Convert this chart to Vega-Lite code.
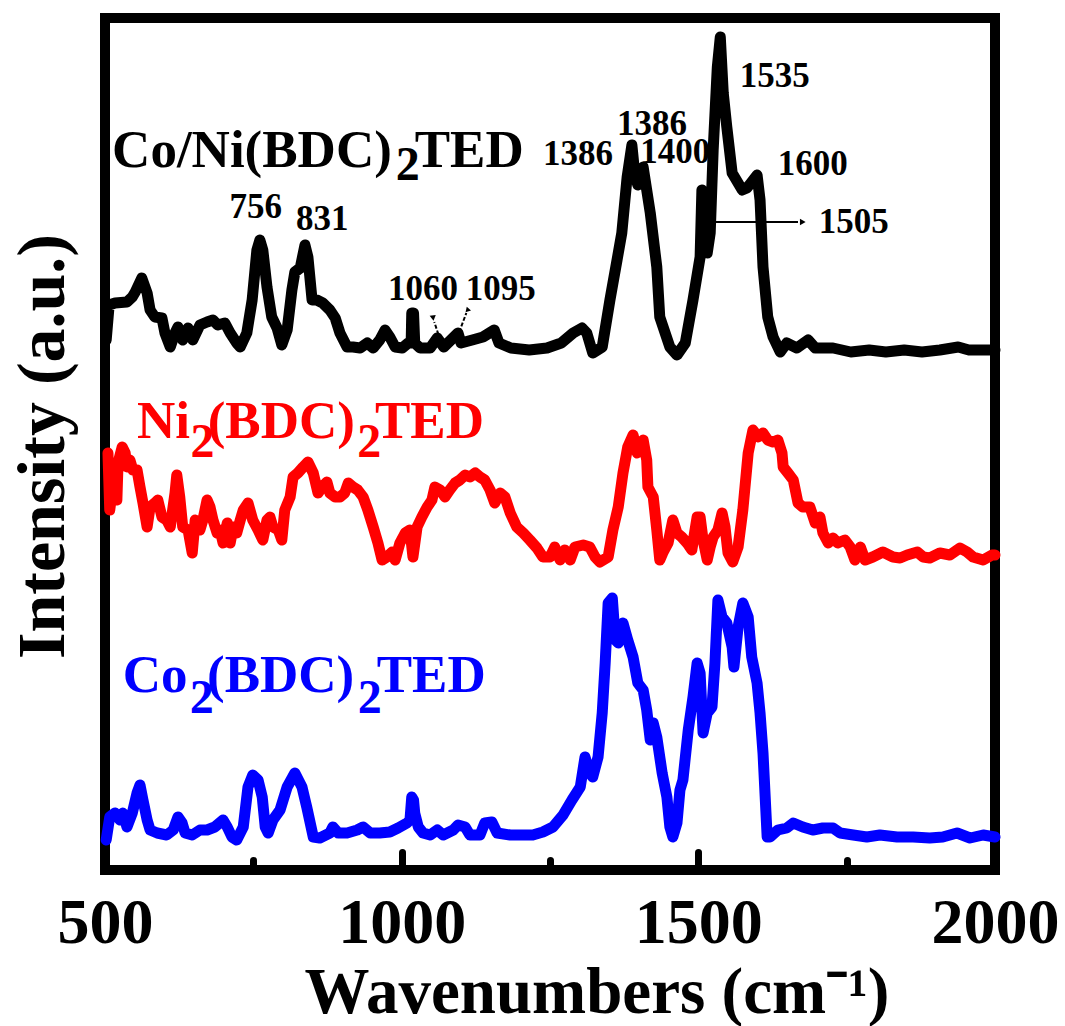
{
  "$schema": "https://vega.github.io/schema/vega-lite/v6.json",
  "width": 890,
  "height": 852,
  "autosize": {"type": "none"},
  "padding": {"left": 105, "top": 18, "right": 70, "bottom": 156},
  "background": "white",
  "config": {
    "view": {"stroke": "black", "strokeWidth": 10},
    "font": "Liberation Serif",
    "axis": {"grid": false}
  },
  "datasets": {
    "spectra": [
      {"s":"CoNi","w":502,"I":530},{"s":"CoNi","w":507,"I":565},{"s":"CoNi","w":517,"I":567},{"s":"CoNi","w":537,"I":568},{"s":"CoNi","w":546,"I":573},{"s":"CoNi","w":551,"I":578},{"s":"CoNi","w":562,"I":592},{"s":"CoNi","w":571,"I":577},{"s":"CoNi","w":576,"I":560},{"s":"CoNi","w":584,"I":553},{"s":"CoNi","w":596,"I":552},{"s":"CoNi","w":601,"I":537},{"s":"CoNi","w":610,"I":523},{"s":"CoNi","w":618,"I":537},{"s":"CoNi","w":623,"I":543},{"s":"CoNi","w":631,"I":530},{"s":"CoNi","w":640,"I":542},{"s":"CoNi","w":648,"I":530},{"s":"CoNi","w":660,"I":545},{"s":"CoNi","w":672,"I":548},{"s":"CoNi","w":682,"I":550},{"s":"CoNi","w":690,"I":545},{"s":"CoNi","w":702,"I":547},{"s":"CoNi","w":711,"I":537},{"s":"CoNi","w":722,"I":527},{"s":"CoNi","w":728,"I":523},{"s":"CoNi","w":739,"I":537},{"s":"CoNi","w":748,"I":570},{"s":"CoNi","w":756,"I":620},{"s":"CoNi","w":761,"I":630},{"s":"CoNi","w":766,"I":620},{"s":"CoNi","w":773,"I":583},{"s":"CoNi","w":781,"I":553},{"s":"CoNi","w":790,"I":542},{"s":"CoNi","w":798,"I":525},{"s":"CoNi","w":807,"I":540},{"s":"CoNi","w":815,"I":580},{"s":"CoNi","w":820,"I":598},{"s":"CoNi","w":829,"I":602},{"s":"CoNi","w":837,"I":625},{"s":"CoNi","w":842,"I":613},{"s":"CoNi","w":849,"I":570},{"s":"CoNi","w":857,"I":570},{"s":"CoNi","w":867,"I":567},{"s":"CoNi","w":879,"I":560},{"s":"CoNi","w":888,"I":552},{"s":"CoNi","w":896,"I":537},{"s":"CoNi","w":908,"I":523},{"s":"CoNi","w":918,"I":523},{"s":"CoNi","w":930,"I":522},{"s":"CoNi","w":942,"I":527},{"s":"CoNi","w":952,"I":522},{"s":"CoNi","w":963,"I":530},{"s":"CoNi","w":972,"I":540},{"s":"CoNi","w":980,"I":533},{"s":"CoNi","w":989,"I":523},{"s":"CoNi","w":1001,"I":522},{"s":"CoNi","w":1011,"I":527},{"s":"CoNi","w":1016,"I":527},{"s":"CoNi","w":1017,"I":557},{"s":"CoNi","w":1020,"I":557},{"s":"CoNi","w":1022,"I":527},{"s":"CoNi","w":1031,"I":522},{"s":"CoNi","w":1048,"I":522},{"s":"CoNi","w":1060,"I":532},{"s":"CoNi","w":1071,"I":523},{"s":"CoNi","w":1083,"I":530},{"s":"CoNi","w":1095,"I":537},{"s":"CoNi","w":1100,"I":527},{"s":"CoNi","w":1119,"I":530},{"s":"CoNi","w":1137,"I":533},{"s":"CoNi","w":1156,"I":540},{"s":"CoNi","w":1164,"I":527},{"s":"CoNi","w":1184,"I":522},{"s":"CoNi","w":1215,"I":520},{"s":"CoNi","w":1245,"I":522},{"s":"CoNi","w":1269,"I":527},{"s":"CoNi","w":1289,"I":537},{"s":"CoNi","w":1304,"I":542},{"s":"CoNi","w":1312,"I":537},{"s":"CoNi","w":1322,"I":517},{"s":"CoNi","w":1338,"I":523},{"s":"CoNi","w":1351,"I":570},{"s":"CoNi","w":1363,"I":610},{"s":"CoNi","w":1371,"I":637},{"s":"CoNi","w":1380,"I":693},{"s":"CoNi","w":1388,"I":725},{"s":"CoNi","w":1393,"I":695},{"s":"CoNi","w":1398,"I":685},{"s":"CoNi","w":1407,"I":703},{"s":"CoNi","w":1419,"I":657},{"s":"CoNi","w":1430,"I":603},{"s":"CoNi","w":1435,"I":553},{"s":"CoNi","w":1452,"I":523},{"s":"CoNi","w":1464,"I":515},{"s":"CoNi","w":1478,"I":527},{"s":"CoNi","w":1491,"I":570},{"s":"CoNi","w":1503,"I":613},{"s":"CoNi","w":1506,"I":680},{"s":"CoNi","w":1511,"I":670},{"s":"CoNi","w":1515,"I":617},{"s":"CoNi","w":1520,"I":637},{"s":"CoNi","w":1525,"I":720},{"s":"CoNi","w":1532,"I":803},{"s":"CoNi","w":1537,"I":833},{"s":"CoNi","w":1542,"I":777},{"s":"CoNi","w":1548,"I":743},{"s":"CoNi","w":1557,"I":697},{"s":"CoNi","w":1574,"I":680},{"s":"CoNi","w":1582,"I":682},{"s":"CoNi","w":1599,"I":695},{"s":"CoNi","w":1604,"I":670},{"s":"CoNi","w":1609,"I":603},{"s":"CoNi","w":1617,"I":553},{"s":"CoNi","w":1626,"I":533},{"s":"CoNi","w":1638,"I":518},{"s":"CoNi","w":1649,"I":527},{"s":"CoNi","w":1666,"I":522},{"s":"CoNi","w":1685,"I":530},{"s":"CoNi","w":1697,"I":522},{"s":"CoNi","w":1727,"I":522},{"s":"CoNi","w":1757,"I":518},{"s":"CoNi","w":1788,"I":520},{"s":"CoNi","w":1816,"I":518},{"s":"CoNi","w":1847,"I":520},{"s":"CoNi","w":1877,"I":518},{"s":"CoNi","w":1907,"I":520},{"s":"CoNi","w":1938,"I":523},{"s":"CoNi","w":1956,"I":520},{"s":"CoNi","w":1988,"I":520},{"s":"CoNi","w":2000,"I":520},
      {"s":"Ni","w":505,"I":417},{"s":"Ni","w":508,"I":360},{"s":"Ni","w":513,"I":383},{"s":"Ni","w":520,"I":370},{"s":"Ni","w":522,"I":407},{"s":"Ni","w":529,"I":423},{"s":"Ni","w":534,"I":417},{"s":"Ni","w":537,"I":403},{"s":"Ni","w":542,"I":410},{"s":"Ni","w":547,"I":400},{"s":"Ni","w":554,"I":400},{"s":"Ni","w":559,"I":383},{"s":"Ni","w":564,"I":367},{"s":"Ni","w":571,"I":343},{"s":"Ni","w":576,"I":363},{"s":"Ni","w":584,"I":367},{"s":"Ni","w":589,"I":370},{"s":"Ni","w":596,"I":353},{"s":"Ni","w":604,"I":350},{"s":"Ni","w":610,"I":343},{"s":"Ni","w":618,"I":377},{"s":"Ni","w":621,"I":395},{"s":"Ni","w":626,"I":373},{"s":"Ni","w":631,"I":343},{"s":"Ni","w":640,"I":340},{"s":"Ni","w":647,"I":317},{"s":"Ni","w":652,"I":350},{"s":"Ni","w":660,"I":340},{"s":"Ni","w":665,"I":350},{"s":"Ni","w":672,"I":370},{"s":"Ni","w":677,"I":363},{"s":"Ni","w":682,"I":350},{"s":"Ni","w":689,"I":337},{"s":"Ni","w":694,"I":340},{"s":"Ni","w":699,"I":327},{"s":"Ni","w":706,"I":347},{"s":"Ni","w":711,"I":327},{"s":"Ni","w":716,"I":343},{"s":"Ni","w":722,"I":337},{"s":"Ni","w":728,"I":350},{"s":"Ni","w":733,"I":360},{"s":"Ni","w":741,"I":367},{"s":"Ni","w":749,"I":350},{"s":"Ni","w":758,"I":340},{"s":"Ni","w":766,"I":330},{"s":"Ni","w":773,"I":350},{"s":"Ni","w":778,"I":353},{"s":"Ni","w":783,"I":343},{"s":"Ni","w":792,"I":340},{"s":"Ni","w":798,"I":330},{"s":"Ni","w":803,"I":360},{"s":"Ni","w":812,"I":373},{"s":"Ni","w":817,"I":393},{"s":"Ni","w":825,"I":397},{"s":"Ni","w":834,"I":403},{"s":"Ni","w":842,"I":408},{"s":"Ni","w":851,"I":397},{"s":"Ni","w":859,"I":377},{"s":"Ni","w":866,"I":383},{"s":"Ni","w":874,"I":388},{"s":"Ni","w":879,"I":377},{"s":"Ni","w":888,"I":373},{"s":"Ni","w":896,"I":373},{"s":"Ni","w":904,"I":377},{"s":"Ni","w":910,"I":387},{"s":"Ni","w":918,"I":383},{"s":"Ni","w":926,"I":380},{"s":"Ni","w":935,"I":373},{"s":"Ni","w":943,"I":360},{"s":"Ni","w":952,"I":343},{"s":"Ni","w":960,"I":327},{"s":"Ni","w":967,"I":310},{"s":"Ni","w":975,"I":313},{"s":"Ni","w":984,"I":318},{"s":"Ni","w":989,"I":310},{"s":"Ni","w":997,"I":327},{"s":"Ni","w":1006,"I":337},{"s":"Ni","w":1014,"I":340},{"s":"Ni","w":1019,"I":313},{"s":"Ni","w":1026,"I":343},{"s":"Ni","w":1034,"I":353},{"s":"Ni","w":1043,"I":363},{"s":"Ni","w":1051,"I":370},{"s":"Ni","w":1056,"I":383},{"s":"Ni","w":1065,"I":380},{"s":"Ni","w":1073,"I":373},{"s":"Ni","w":1081,"I":380},{"s":"Ni","w":1090,"I":387},{"s":"Ni","w":1098,"I":390},{"s":"Ni","w":1107,"I":395},{"s":"Ni","w":1115,"I":393},{"s":"Ni","w":1124,"I":397},{"s":"Ni","w":1132,"I":393},{"s":"Ni","w":1140,"I":390},{"s":"Ni","w":1149,"I":380},{"s":"Ni","w":1157,"I":367},{"s":"Ni","w":1166,"I":377},{"s":"Ni","w":1174,"I":373},{"s":"Ni","w":1183,"I":357},{"s":"Ni","w":1194,"I":343},{"s":"Ni","w":1205,"I":337},{"s":"Ni","w":1216,"I":330},{"s":"Ni","w":1228,"I":322},{"s":"Ni","w":1238,"I":313},{"s":"Ni","w":1250,"I":313},{"s":"Ni","w":1258,"I":323},{"s":"Ni","w":1267,"I":310},{"s":"Ni","w":1275,"I":320},{"s":"Ni","w":1284,"I":310},{"s":"Ni","w":1292,"I":323},{"s":"Ni","w":1306,"I":325},{"s":"Ni","w":1317,"I":323},{"s":"Ni","w":1326,"I":313},{"s":"Ni","w":1334,"I":308},{"s":"Ni","w":1348,"I":313},{"s":"Ni","w":1356,"I":340},{"s":"Ni","w":1365,"I":363},{"s":"Ni","w":1373,"I":397},{"s":"Ni","w":1381,"I":423},{"s":"Ni","w":1390,"I":435},{"s":"Ni","w":1397,"I":417},{"s":"Ni","w":1402,"I":427},{"s":"Ni","w":1407,"I":430},{"s":"Ni","w":1413,"I":410},{"s":"Ni","w":1415,"I":383},{"s":"Ni","w":1424,"I":373},{"s":"Ni","w":1430,"I":340},{"s":"Ni","w":1435,"I":310},{"s":"Ni","w":1440,"I":317},{"s":"Ni","w":1449,"I":327},{"s":"Ni","w":1457,"I":350},{"s":"Ni","w":1464,"I":337},{"s":"Ni","w":1472,"I":333},{"s":"Ni","w":1481,"I":327},{"s":"Ni","w":1489,"I":320},{"s":"Ni","w":1498,"I":353},{"s":"Ni","w":1503,"I":353},{"s":"Ni","w":1508,"I":330},{"s":"Ni","w":1515,"I":310},{"s":"Ni","w":1520,"I":323},{"s":"Ni","w":1525,"I":333},{"s":"Ni","w":1533,"I":340},{"s":"Ni","w":1540,"I":357},{"s":"Ni","w":1545,"I":343},{"s":"Ni","w":1550,"I":317},{"s":"Ni","w":1558,"I":308},{"s":"Ni","w":1567,"I":323},{"s":"Ni","w":1575,"I":360},{"s":"Ni","w":1584,"I":417},{"s":"Ni","w":1592,"I":440},{"s":"Ni","w":1601,"I":433},{"s":"Ni","w":1609,"I":437},{"s":"Ni","w":1617,"I":430},{"s":"Ni","w":1626,"I":428},{"s":"Ni","w":1634,"I":430},{"s":"Ni","w":1641,"I":417},{"s":"Ni","w":1643,"I":403},{"s":"Ni","w":1651,"I":397},{"s":"Ni","w":1660,"I":390},{"s":"Ni","w":1668,"I":367},{"s":"Ni","w":1676,"I":363},{"s":"Ni","w":1688,"I":363},{"s":"Ni","w":1697,"I":347},{"s":"Ni","w":1705,"I":353},{"s":"Ni","w":1710,"I":337},{"s":"Ni","w":1719,"I":327},{"s":"Ni","w":1727,"I":332},{"s":"Ni","w":1735,"I":327},{"s":"Ni","w":1747,"I":330},{"s":"Ni","w":1756,"I":323},{"s":"Ni","w":1764,"I":310},{"s":"Ni","w":1773,"I":323},{"s":"Ni","w":1781,"I":310},{"s":"Ni","w":1794,"I":313},{"s":"Ni","w":1811,"I":318},{"s":"Ni","w":1828,"I":313},{"s":"Ni","w":1840,"I":312},{"s":"Ni","w":1852,"I":315},{"s":"Ni","w":1869,"I":318},{"s":"Ni","w":1879,"I":313},{"s":"Ni","w":1890,"I":312},{"s":"Ni","w":1907,"I":317},{"s":"Ni","w":1924,"I":315},{"s":"Ni","w":1941,"I":322},{"s":"Ni","w":1953,"I":318},{"s":"Ni","w":1963,"I":313},{"s":"Ni","w":1980,"I":310},{"s":"Ni","w":1995,"I":315},{"s":"Ni","w":2000,"I":315},
      {"s":"Co","w":502,"I":30},{"s":"Co","w":508,"I":53},{"s":"Co","w":517,"I":57},{"s":"Co","w":525,"I":50},{"s":"Co","w":530,"I":57},{"s":"Co","w":537,"I":43},{"s":"Co","w":546,"I":57},{"s":"Co","w":554,"I":77},{"s":"Co","w":559,"I":85},{"s":"Co","w":564,"I":70},{"s":"Co","w":571,"I":50},{"s":"Co","w":576,"I":40},{"s":"Co","w":588,"I":37},{"s":"Co","w":604,"I":35},{"s":"Co","w":615,"I":40},{"s":"Co","w":623,"I":53},{"s":"Co","w":630,"I":47},{"s":"Co","w":635,"I":37},{"s":"Co","w":647,"I":35},{"s":"Co","w":660,"I":40},{"s":"Co","w":672,"I":40},{"s":"Co","w":685,"I":43},{"s":"Co","w":699,"I":50},{"s":"Co","w":706,"I":43},{"s":"Co","w":714,"I":33},{"s":"Co","w":722,"I":30},{"s":"Co","w":733,"I":43},{"s":"Co","w":741,"I":83},{"s":"Co","w":749,"I":95},{"s":"Co","w":758,"I":90},{"s":"Co","w":765,"I":73},{"s":"Co","w":770,"I":43},{"s":"Co","w":775,"I":37},{"s":"Co","w":783,"I":50},{"s":"Co","w":795,"I":60},{"s":"Co","w":807,"I":83},{"s":"Co","w":820,"I":97},{"s":"Co","w":832,"I":83},{"s":"Co","w":840,"I":63},{"s":"Co","w":851,"I":33},{"s":"Co","w":862,"I":32},{"s":"Co","w":879,"I":37},{"s":"Co","w":884,"I":43},{"s":"Co","w":893,"I":37},{"s":"Co","w":908,"I":37},{"s":"Co","w":925,"I":40},{"s":"Co","w":935,"I":43},{"s":"Co","w":947,"I":37},{"s":"Co","w":963,"I":37},{"s":"Co","w":980,"I":38},{"s":"Co","w":994,"I":42},{"s":"Co","w":1009,"I":47},{"s":"Co","w":1014,"I":50},{"s":"Co","w":1017,"I":73},{"s":"Co","w":1020,"I":70},{"s":"Co","w":1022,"I":57},{"s":"Co","w":1028,"I":43},{"s":"Co","w":1036,"I":37},{"s":"Co","w":1048,"I":35},{"s":"Co","w":1060,"I":40},{"s":"Co","w":1070,"I":35},{"s":"Co","w":1087,"I":40},{"s":"Co","w":1095,"I":45},{"s":"Co","w":1107,"I":43},{"s":"Co","w":1115,"I":35},{"s":"Co","w":1132,"I":35},{"s":"Co","w":1140,"I":47},{"s":"Co","w":1152,"I":48},{"s":"Co","w":1161,"I":37},{"s":"Co","w":1183,"I":35},{"s":"Co","w":1205,"I":35},{"s":"Co","w":1221,"I":35},{"s":"Co","w":1238,"I":38},{"s":"Co","w":1255,"I":43},{"s":"Co","w":1272,"I":55},{"s":"Co","w":1287,"I":70},{"s":"Co","w":1301,"I":83},{"s":"Co","w":1309,"I":113},{"s":"Co","w":1317,"I":97},{"s":"Co","w":1322,"I":93},{"s":"Co","w":1331,"I":113},{"s":"Co","w":1338,"I":157},{"s":"Co","w":1343,"I":207},{"s":"Co","w":1348,"I":267},{"s":"Co","w":1355,"I":272},{"s":"Co","w":1360,"I":230},{"s":"Co","w":1365,"I":227},{"s":"Co","w":1373,"I":247},{"s":"Co","w":1381,"I":230},{"s":"Co","w":1390,"I":213},{"s":"Co","w":1398,"I":187},{"s":"Co","w":1407,"I":180},{"s":"Co","w":1413,"I":160},{"s":"Co","w":1419,"I":130},{"s":"Co","w":1424,"I":147},{"s":"Co","w":1430,"I":133},{"s":"Co","w":1439,"I":97},{"s":"Co","w":1447,"I":73},{"s":"Co","w":1452,"I":43},{"s":"Co","w":1457,"I":33},{"s":"Co","w":1464,"I":47},{"s":"Co","w":1469,"I":80},{"s":"Co","w":1474,"I":90},{"s":"Co","w":1483,"I":140},{"s":"Co","w":1491,"I":173},{"s":"Co","w":1498,"I":207},{"s":"Co","w":1503,"I":197},{"s":"Co","w":1508,"I":137},{"s":"Co","w":1515,"I":157},{"s":"Co","w":1523,"I":163},{"s":"Co","w":1528,"I":207},{"s":"Co","w":1533,"I":270},{"s":"Co","w":1540,"I":253},{"s":"Co","w":1548,"I":247},{"s":"Co","w":1557,"I":223},{"s":"Co","w":1560,"I":203},{"s":"Co","w":1567,"I":243},{"s":"Co","w":1575,"I":267},{"s":"Co","w":1584,"I":253},{"s":"Co","w":1590,"I":213},{"s":"Co","w":1599,"I":187},{"s":"Co","w":1604,"I":157},{"s":"Co","w":1609,"I":117},{"s":"Co","w":1616,"I":33},{"s":"Co","w":1621,"I":33},{"s":"Co","w":1634,"I":40},{"s":"Co","w":1649,"I":42},{"s":"Co","w":1660,"I":47},{"s":"Co","w":1676,"I":43},{"s":"Co","w":1693,"I":40},{"s":"Co","w":1710,"I":42},{"s":"Co","w":1727,"I":42},{"s":"Co","w":1739,"I":37},{"s":"Co","w":1761,"I":35},{"s":"Co","w":1784,"I":33},{"s":"Co","w":1806,"I":35},{"s":"Co","w":1835,"I":33},{"s":"Co","w":1862,"I":33},{"s":"Co","w":1890,"I":32},{"s":"Co","w":1912,"I":33},{"s":"Co","w":1936,"I":37},{"s":"Co","w":1958,"I":32},{"s":"Co","w":1980,"I":35},{"s":"Co","w":2000,"I":33}
    ],
    "nums": [
      {"w":754,"I":652,"t":"756"},
      {"w":866,"I":640,"t":"831"},
      {"w":1036,"I":570,"t":"1060"},
      {"w":1167,"I":570,"t":"1095"},
      {"w":1297,"I":705,"t":"1386"},
      {"w":1422,"I":735,"t":"1386"},
      {"w":1461,"I":707,"t":"1400"},
      {"w":1629,"I":783,"t":"1535"},
      {"w":1693,"I":695,"t":"1600"},
      {"w":1762,"I":637,"t":"1505"}
    ],
    "names": [
      {"s":"CoNi","p":"main","w":512,"I":703,"t":"Co/Ni(BDC)"},
      {"s":"CoNi","p":"sub","w":990,"I":690,"t":"2"},
      {"s":"CoNi","p":"main","w":1022,"I":703,"t":"TED"},
      {"s":"Ni","p":"main","w":554,"I":432,"t":"Ni"},
      {"s":"Ni","p":"sub","w":644,"I":413,"t":"2"},
      {"s":"Ni","p":"main","w":673,"I":432,"t":"(BDC)"},
      {"s":"Ni","p":"sub","w":925,"I":413,"t":"2"},
      {"s":"Ni","p":"main","w":955,"I":432,"t":"TED"},
      {"s":"Co","p":"main","w":530,"I":178,"t":"Co"},
      {"s":"Co","p":"sub","w":643,"I":157,"t":"2"},
      {"s":"Co","p":"main","w":672,"I":178,"t":"(BDC)"},
      {"s":"Co","p":"sub","w":926,"I":157,"t":"2"},
      {"s":"Co","p":"main","w":958,"I":178,"t":"TED"}
    ],
    "arrows": [
      {"w":1525,"I":648,"w2":1668,"I2":648,"k":"solid"},
      {"w":1065,"I":530,"w2":1055,"I2":548,"k":"dash"},
      {"w":1097,"I":538,"w2":1109,"I2":557,"k":"dash"}
    ],
    "heads": [
      {"w":1676,"I":648,"d":"right"},
      {"w":1053,"I":552,"d":"upleft"},
      {"w":1111,"I":561,"d":"upright"}
    ]
  },
  "resolve": {"axis": {"x": "independent", "y": "independent"}},
  "layer": [
    {
      "data": {"name": "nums"},
      "mark": {"type": "text", "font": "Liberation Serif", "fontWeight": "bold", "fontSize": 35, "align": "center", "baseline": "alphabetic", "color": "black"},
      "encoding": {
        "x": {"field": "w", "type": "quantitative", "scale": {"domain": [500, 2000], "nice": false, "zero": false},
              "axis": {"orient": "bottom", "values": [750, 1250, 1750], "labels": false, "domain": false, "title": null, "ticks": true, "tickSize": -10, "tickWidth": 7, "tickColor": "black", "tickCap": "round", "grid": false}},
        "y": {"field": "I", "type": "quantitative", "scale": {"domain": [0, 852], "nice": false, "zero": false}, "axis": null},
        "text": {"field": "t"}
      }
    },
    {
      "data": {"name": "names"},
      "mark": {"type": "text", "font": "Liberation Serif", "fontWeight": "bold", "align": "left", "baseline": "alphabetic"},
      "encoding": {
        "x": {"field": "w", "type": "quantitative", "axis": null},
        "y": {"field": "I", "type": "quantitative", "axis": null},
        "text": {"field": "t"},
        "color": {"field": "s", "type": "nominal", "scale": {"domain": ["CoNi", "Ni", "Co"], "range": ["#000000", "#ff0000", "#0000ff"]}, "legend": null},
        "size": {"field": "p", "type": "nominal", "scale": {"domain": ["main", "sub"], "range": [53, 33]}, "legend": null}
      }
    },
    {
      "data": {"name": "spectra"},
      "mark": {"type": "line", "strokeWidth": 11, "strokeJoin": "round", "strokeCap": "round"},
      "encoding": {
        "x": {"field": "w", "type": "quantitative",
              "axis": {"orient": "bottom", "values": [500, 1000, 1500, 2000], "format": "d", "domain": false, "ticks": true, "tickSize": -18, "tickWidth": 7, "tickColor": "black", "tickCap": "round", "grid": false,
                       "labelFont": "Liberation Serif", "labelFontWeight": "bold", "labelFontSize": 64, "labelColor": "black", "labelPadding": 39, "labelBaseline": "top", "labelFlush": false, "labelOverlap": false,
                       "title": "Wavenumbers (cm⁻¹)", "titleFont": "Liberation Serif", "titleFontWeight": "bold", "titleFontSize": 65, "titleColor": "black", "titleAlign": "left", "titleX": 199, "titleY": 142, "titleBaseline": "alphabetic"}},
        "y": {"field": "I", "type": "quantitative",
              "axis": {"orient": "left", "title": "Intensity (a.u.)", "labels": false, "ticks": false, "domain": false, "grid": false, "titleFont": "Liberation Serif", "titleFontWeight": "bold", "titleFontSize": 68, "titleColor": "black", "titleAngle": 270, "titleX": -42, "titleY": 428, "titleAlign": "center", "titleBaseline": "alphabetic"}},
        "color": {"field": "s", "type": "nominal", "legend": null}
      }
    },
    {
      "data": {"name": "arrows"},
      "mark": {"type": "rule", "strokeWidth": 2, "color": "black"},
      "encoding": {
        "x": {"field": "w", "type": "quantitative", "axis": null},
        "y": {"field": "I", "type": "quantitative", "axis": null},
        "x2": {"field": "w2"},
        "y2": {"field": "I2"},
        "strokeDash": {"field": "k", "type": "nominal", "scale": {"domain": ["solid", "dash"], "range": [[1, 0], [4, 2]]}, "legend": null}
      }
    },
    {
      "data": {"name": "heads"},
      "mark": {"type": "point", "filled": true, "color": "black", "opacity": 1},
      "encoding": {
        "x": {"field": "w", "type": "quantitative", "axis": null},
        "y": {"field": "I", "type": "quantitative", "axis": null},
        "shape": {"field": "d", "type": "nominal", "scale": {"domain": ["right", "upleft", "upright"], "range": ["triangle-right", "triangle-up", "triangle-up"]}, "legend": null},
        "angle": {"field": "d", "type": "nominal", "scale": {"domain": ["right", "upleft", "upright"], "range": [0, 342, 20]}, "legend": null},
        "size": {"field": "d", "type": "nominal", "scale": {"domain": ["right", "upleft", "upright"], "range": [260, 45, 45]}, "legend": null}
      }
    }
  ]
}
